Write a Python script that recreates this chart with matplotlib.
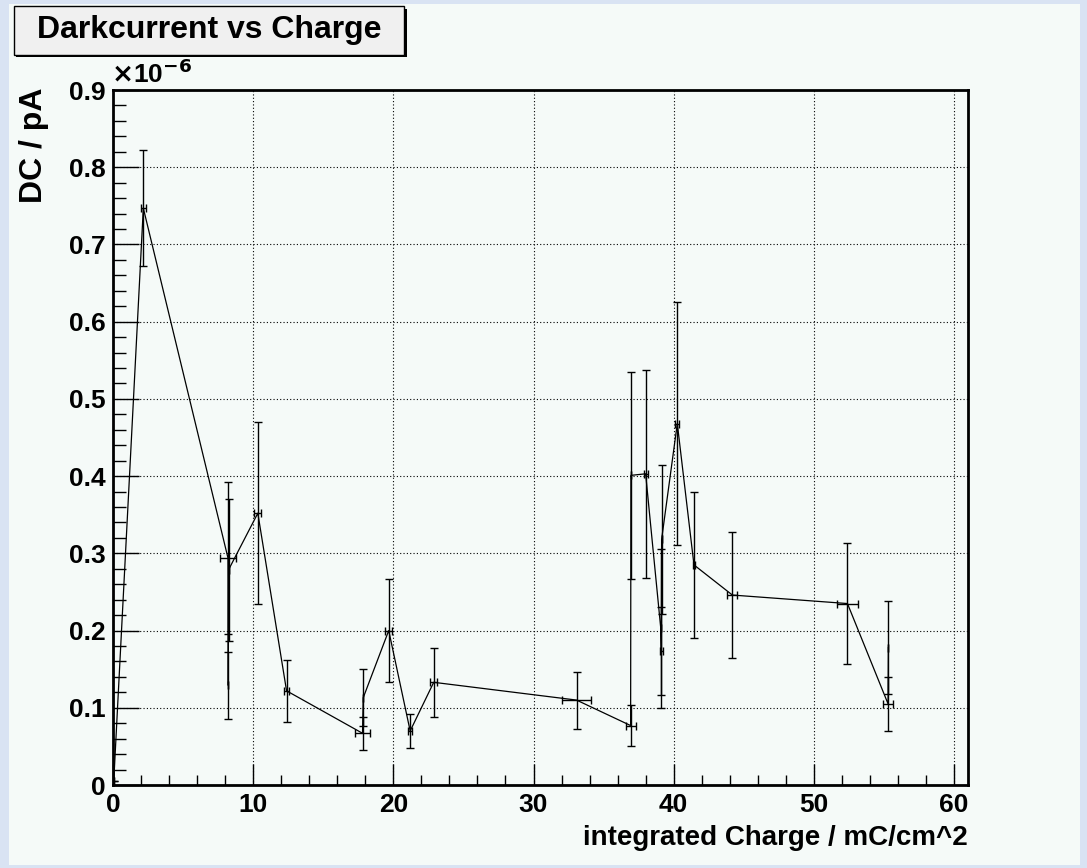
import numpy as np
import matplotlib.pyplot as plt
from matplotlib.patches import Rectangle
from matplotlib.ticker import MultipleLocator, FuncFormatter

# integrated charge (mC/cm^2) and dark current (units of 1e-6 pA), in measurement order
charge = [0.05, 2.16, 8.20, 8.22, 8.25, 10.33, 12.38, 17.80, 17.85, 19.67, 21.20, 22.88,
          33.07, 36.93, 36.95, 38.00, 39.08, 39.12, 39.14, 40.26, 41.45, 44.19, 52.40,
          55.30, 55.32]
dark_current = [0.005, 0.747, 0.294, 0.129, 0.279, 0.352, 0.122, 0.067, 0.113, 0.200,
                0.070, 0.133, 0.110, 0.077, 0.401, 0.403, 0.203, 0.173, 0.318, 0.468,
                0.285, 0.246, 0.235, 0.105, 0.178]
charge_err = [0.0, 0.20, 0.60, 0.0, 0.0, 0.25, 0.20, 0.55, 0.0, 0.24, 0.15, 0.23,
              1.04, 0.36, 0.0, 0.15, 0.0, 0.10, 0.0, 0.15, 0.10, 0.36, 0.77, 0.33, 0.0]
dc_err = [0.0, 0.075, 0.098, 0.043, 0.092, 0.118, 0.040, 0.0216, 0.037, 0.0665, 0.0225,
          0.0445, 0.037, 0.026, 0.134, 0.135, 0.103, 0.057, 0.097, 0.157, 0.095, 0.081,
          0.0785, 0.035, 0.060]

plt.rcParams['font.family'] = ['Liberation Sans', 'DejaVu Sans']
plt.rcParams['font.weight'] = 'bold'

fig = plt.figure(figsize=(10.87, 8.68), dpi=100)
fig.patch.set_facecolor('#d9e3f3')
# pale canvas inside the blue frame
fig.patches.append(Rectangle((0.008, 0.004), 0.986, 0.991, transform=fig.transFigure,
                             facecolor='#f5faf8', edgecolor='none', zorder=-5))

ax = fig.add_axes([0.104, 0.0956, 0.7865, 0.8007])
ax.set_zorder(1)
ax.set_facecolor('#f5faf8')

ax.errorbar(charge, dark_current, xerr=charge_err, yerr=dc_err, color='black',
            linewidth=0.9, elinewidth=1.0, capsize=3, capthick=1.0, zorder=3)

ax.set_xlim(0, 61)
ax.set_ylim(0, 0.9)
ax.xaxis.set_major_locator(MultipleLocator(10))
ax.xaxis.set_minor_locator(MultipleLocator(2))
ax.yaxis.set_major_locator(MultipleLocator(0.1))
ax.yaxis.set_minor_locator(MultipleLocator(0.02))
ax.yaxis.set_major_formatter(FuncFormatter(lambda v, p: '0' if abs(v) < 1e-9 else f'{v:.1f}'))
ax.xaxis.set_major_formatter(FuncFormatter(lambda v, p: f'{v:.0f}'))

ax.grid(True, which='major', linestyle=(0, (1, 2)), color='black', linewidth=0.8)
ax.tick_params(axis='both', which='both', direction='in', top=False, right=False,
               labelsize=19, width=1.0)
ax.tick_params(axis='x', which='major', length=15, pad=6)
ax.tick_params(axis='x', which='minor', length=7.5)
ax.tick_params(axis='y', which='major', length=18.5, pad=5)
ax.tick_params(axis='y', which='minor', length=9.5)
for s in ax.spines.values():
    s.set_linewidth(2.0)

ax.set_xlabel('integrated Charge / mC/cm^2', fontsize=20, fontweight='bold', loc='right')
ax.xaxis.set_label_coords(1.0, -0.058)
ax.set_ylabel('DC / pA', fontsize=23, fontweight='bold', loc='top')
ax.yaxis.set_label_coords(-0.075, 1.003)

ax.text(-0.002, 1.003, r'$\times$10$^{\mathbf{-6}}$', transform=ax.transAxes, fontsize=19,
        ha='left', va='bottom')

# title box with shadow
tx0, ty0, tw, th = 0.013, 0.937, 0.359, 0.056
fig.patches.append(Rectangle((tx0 + 0.002, ty0 - 0.003), tw, th, transform=fig.transFigure,
                             facecolor='black', edgecolor='none', zorder=1))
fig.patches.append(Rectangle((tx0, ty0), tw, th, transform=fig.transFigure,
                             facecolor='#f0f0f0', edgecolor='black', linewidth=1.0, zorder=2))
fig.text(tx0 + tw / 2, ty0 + th / 2, 'Darkcurrent vs Charge', fontsize=23,
         fontweight='bold', ha='center', va='center', zorder=3)

fig.savefig('out.png', dpi=100, facecolor=fig.get_facecolor())
